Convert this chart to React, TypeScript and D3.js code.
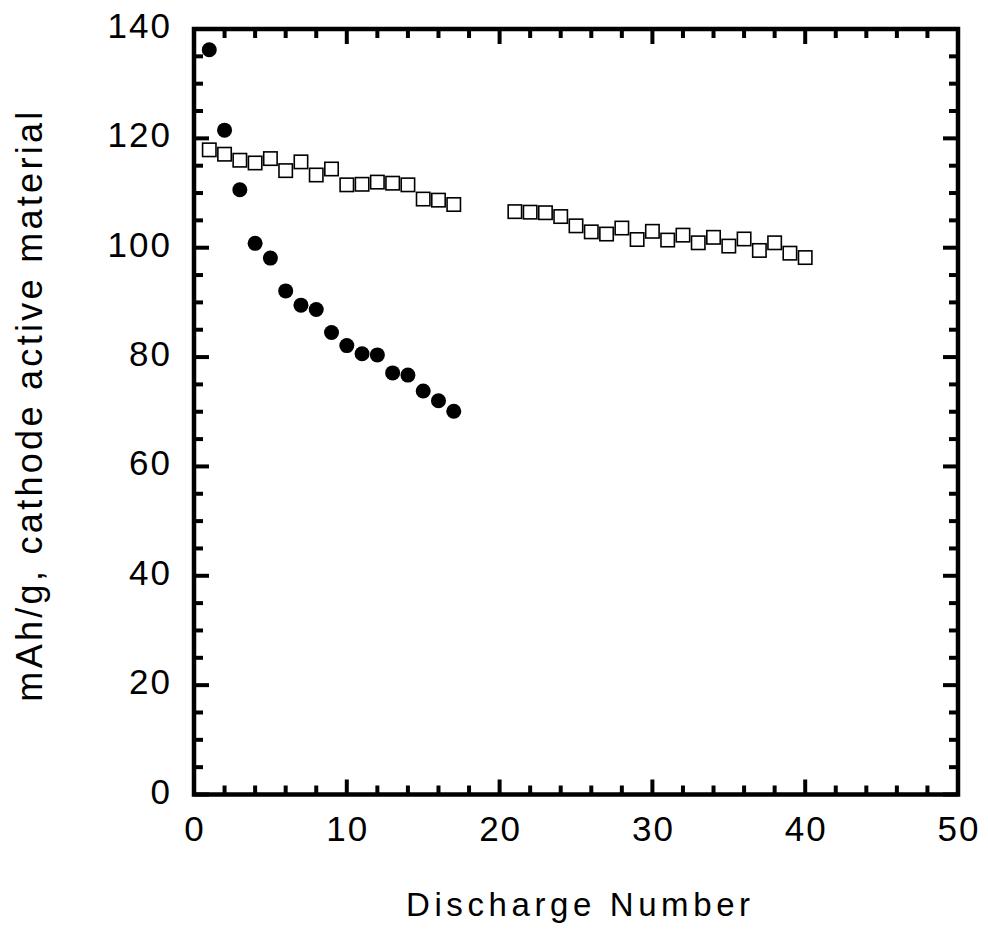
import React from "react";
import * as d3 from "d3";

const circleX = [1,2,3,4,5,6,7,8,9,10,11,12,13,14,15,16,17];
const circleY = [136.2,121.5,110.6,100.8,98.1,92.1,89.5,88.7,84.5,82.1,80.6,80.4,77.1,76.7,73.8,72.0,70.1];
const squareX = [1,2,3,4,5,6,7,8,9,10,11,12,13,14,15,16,17,21,22,23,24,25,26,27,28,29,30,31,32,33,34,35,36,37,38,39,40];
const squareY = [117.9,117.1,116.0,115.5,116.3,114.1,115.7,113.3,114.4,111.5,111.6,112.0,111.8,111.5,108.9,108.7,107.9,
  106.6,106.5,106.4,105.7,104.0,102.9,102.5,103.6,101.5,103.0,101.4,102.3,100.9,101.9,100.3,101.6,99.5,100.9,99.0,98.2];
const xTicks = [0,10,20,30,40,50];
const yTicks = [0,20,40,60,80,100,120,140];
const xMinor = d3.range(0, 51, 2);
const yMinor = d3.range(0, 141, 5);

export default function App() {
  const W = 988, H = 934;
  const L = 194, R = 958, T = 29, B = 794.5;
  const x = d3.scaleLinear().domain([0, 50]).range([L, R]);
  const y = d3.scaleLinear().domain([0, 140]).range([B, T]);
  const font = "'Liberation Sans', Arial, sans-serif";
  const major = 15, minor = 9;
  return (
    <svg width={W} height={H} style={{ position: "absolute", left: 0, top: 0, background: "#fff" }}>
      <rect x={0} y={0} width={W} height={H} fill="#fff" />
      <g stroke="#000" strokeWidth={4}>
        {xMinor.map((v) => {
          const len = v % 10 === 0 ? major : minor;
          return (
            <g key={"xm" + v}>
              <line x1={x(v)} x2={x(v)} y1={B} y2={B - len} />
              <line x1={x(v)} x2={x(v)} y1={T} y2={T + len} />
            </g>
          );
        })}
        {yMinor.map((v) => {
          const len = v % 20 === 0 ? major : minor;
          return (
            <g key={"ym" + v}>
              <line x1={L} x2={L + len} y1={y(v)} y2={y(v)} />
              <line x1={R} x2={R - len} y1={y(v)} y2={y(v)} />
            </g>
          );
        })}
      </g>
      <rect x={L} y={T} width={R - L} height={B - T} fill="none" stroke="#000" strokeWidth={4.5} />
      <g fontFamily={font} fill="#000">
        {xTicks.map((v) => (
          <text key={"xt" + v} x={x(v) + 1} y={B + 46} textAnchor="middle" fontSize={35} letterSpacing={2}>{v}</text>
        ))}
        {yTicks.map((v) => (
          <text key={"yt" + v} x={L - 22} y={y(v) + 9} textAnchor="end" fontSize={35} letterSpacing={2}>{v}</text>
        ))}
        <text x={(406.7 + 750) / 2 + 2} y={916} textAnchor="middle" fontSize={33} letterSpacing={4.6}>Discharge Number</text>
        <text transform={`translate(42, 405) rotate(-90)`} textAnchor="middle" fontSize={36} letterSpacing={3.3}>mAh/g, cathode active material</text>
      </g>
      <g fill="#fff" stroke="#000" strokeWidth={1.6}>
        {squareX.map((v, i) => (
          <rect key={"s" + i} x={x(v) - 6.7} y={y(squareY[i]) - 6.7} width={13.4} height={13.4} />
        ))}
      </g>
      <g fill="#000">
        {circleX.map((v, i) => (
          <circle key={"c" + i} cx={x(v)} cy={y(circleY[i])} r={7.5} />
        ))}
      </g>
    </svg>
  );
}
